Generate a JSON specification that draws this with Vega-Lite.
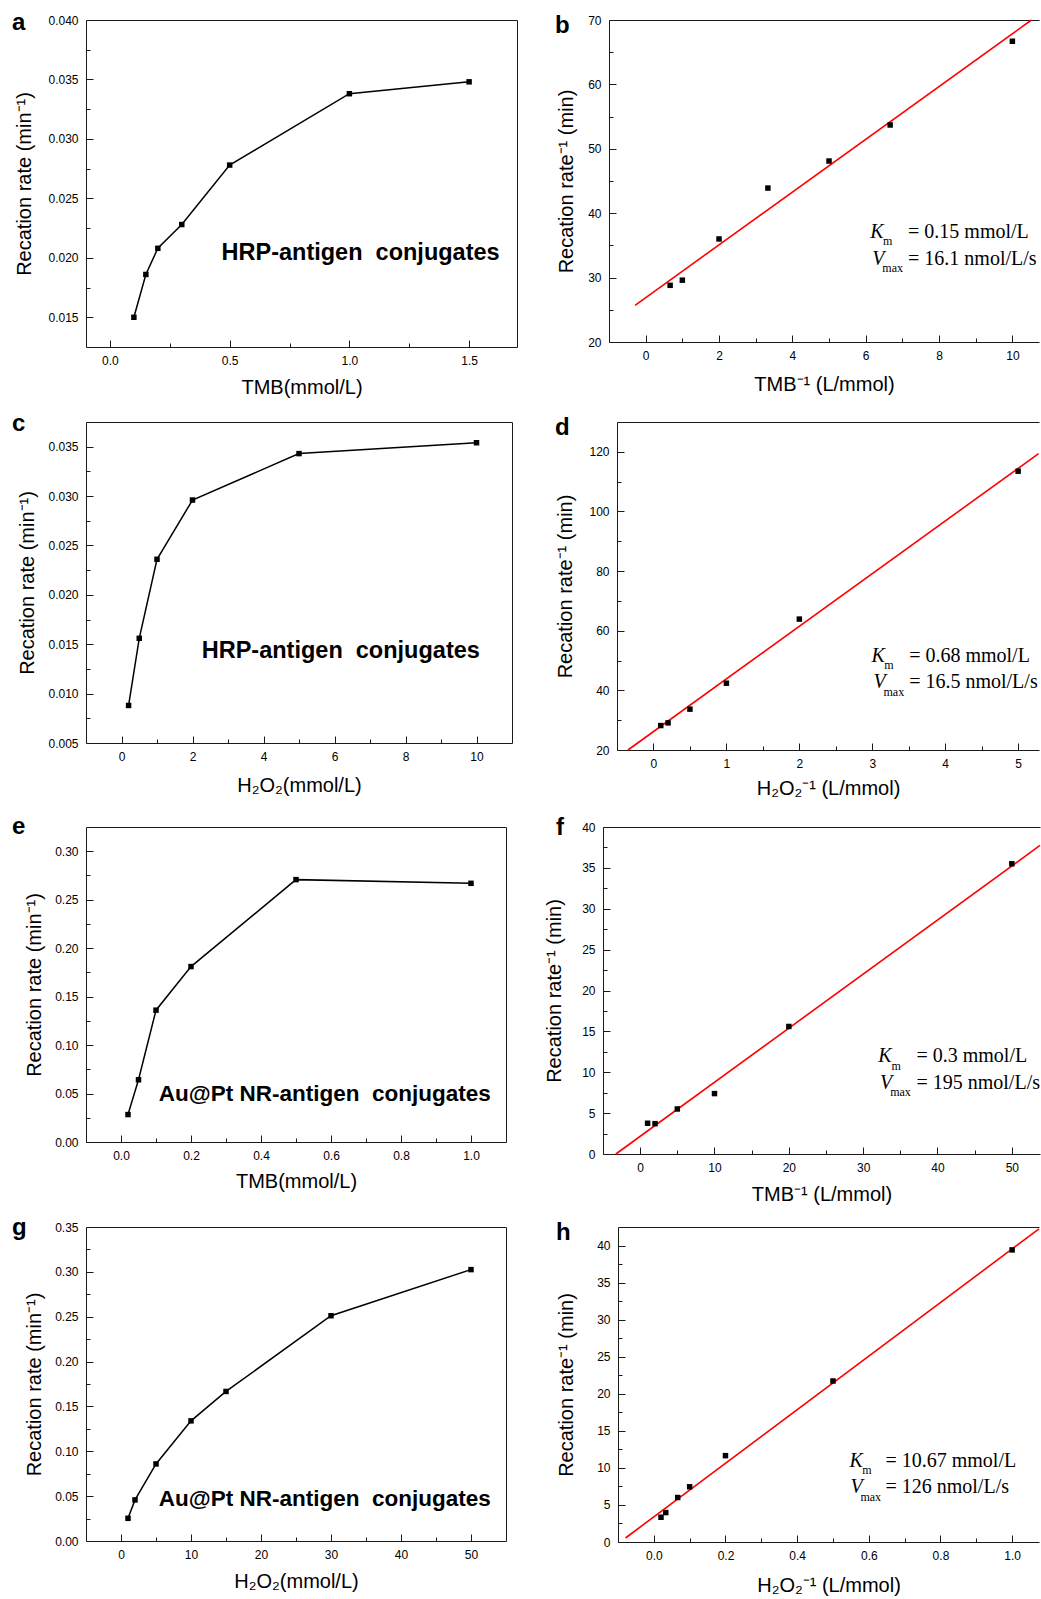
{
  "$schema": "https://vega.github.io/schema/vega-lite/v6.json",
  "background": "white",
  "padding": {"left": 12, "top": 6, "right": 0, "bottom": 0},
  "datasets": {
    "pts": [
      {"p": "a", "x": 0.1, "y": 0.0150}, {"p": "a", "x": 0.15, "y": 0.0186}, {"p": "a", "x": 0.2, "y": 0.0208}, {"p": "a", "x": 0.3, "y": 0.0228}, {"p": "a", "x": 0.5, "y": 0.0278}, {"p": "a", "x": 1.0, "y": 0.0338}, {"p": "a", "x": 1.5, "y": 0.0348},
      {"p": "b", "x": 0.667, "y": 28.8}, {"p": "b", "x": 1.0, "y": 29.6}, {"p": "b", "x": 2.0, "y": 36.0}, {"p": "b", "x": 3.333, "y": 43.9}, {"p": "b", "x": 5.0, "y": 48.1}, {"p": "b", "x": 6.667, "y": 53.7}, {"p": "b", "x": 10.0, "y": 66.7},
      {"p": "c", "x": 0.2, "y": 0.0088}, {"p": "c", "x": 0.5, "y": 0.0156}, {"p": "c", "x": 1.0, "y": 0.0236}, {"p": "c", "x": 2.0, "y": 0.0296}, {"p": "c", "x": 5.0, "y": 0.0343}, {"p": "c", "x": 10.0, "y": 0.0354},
      {"p": "d", "x": 0.1, "y": 28.2}, {"p": "d", "x": 0.2, "y": 29.1}, {"p": "d", "x": 0.5, "y": 33.7}, {"p": "d", "x": 1.0, "y": 42.4}, {"p": "d", "x": 2.0, "y": 63.9}, {"p": "d", "x": 5.0, "y": 113.5},
      {"p": "e", "x": 0.02, "y": 0.0283}, {"p": "e", "x": 0.05, "y": 0.0642}, {"p": "e", "x": 0.1, "y": 0.136}, {"p": "e", "x": 0.2, "y": 0.181}, {"p": "e", "x": 0.5, "y": 0.2707}, {"p": "e", "x": 1.0, "y": 0.2669},
      {"p": "f", "x": 1, "y": 3.76}, {"p": "f", "x": 2, "y": 3.71}, {"p": "f", "x": 5, "y": 5.51}, {"p": "f", "x": 10, "y": 7.39}, {"p": "f", "x": 20, "y": 15.6}, {"p": "f", "x": 50, "y": 35.5},
      {"p": "g", "x": 1, "y": 0.0253}, {"p": "g", "x": 2, "y": 0.0458}, {"p": "g", "x": 5, "y": 0.0859}, {"p": "g", "x": 10, "y": 0.1339}, {"p": "g", "x": 15, "y": 0.1667}, {"p": "g", "x": 30, "y": 0.2511}, {"p": "g", "x": 50, "y": 0.3025},
      {"p": "h", "x": 0.02, "y": 3.34}, {"p": "h", "x": 0.0333, "y": 3.97}, {"p": "h", "x": 0.0667, "y": 6.0}, {"p": "h", "x": 0.1, "y": 7.45}, {"p": "h", "x": 0.2, "y": 11.65}, {"p": "h", "x": 0.5, "y": 21.72}, {"p": "h", "x": 1.0, "y": 39.41}
    ],
    "fit": [
      {"p": "b", "x": -0.29, "y": 25.7}, {"p": "b", "x": 10.52, "y": 70},
      {"p": "d", "x": -0.35, "y": 20}, {"p": "d", "x": 5.28, "y": 119.4},
      {"p": "f", "x": -3.27, "y": 0}, {"p": "f", "x": 53.79, "y": 37.74},
      {"p": "h", "x": -0.079, "y": 0.54}, {"p": "h", "x": 1.075, "y": 42.25}
    ]
  },
  "config": {
    "font": "Liberation Sans",
    "view": {"stroke": null},
    "axis": {
      "grid": false, "domainColor": "#1a1a1a", "domainWidth": 1, "tickColor": "#1a1a1a", "tickWidth": 1,
      "labelColor": "#000", "titleColor": "#000", "labelFont": "Liberation Sans", "titleFont": "Liberation Sans",
      "labelFontSize": 12, "titleFontSize": 20, "titleFontWeight": "normal", "labelOverlap": false, "labelFlush": false,
      "tickSize": -7, "titlePadding": 0, "labelPadding": 15
    },
    "title": {"font": "Liberation Sans", "fontSize": 24, "fontWeight": "bold", "anchor": "start", "frame": "group", "offset": 0, "baseline": "alphabetic", "color": "#000"}
  },
  "spacing": 8,
  "vconcat": [
    {
      "spacing": 38,
      "hconcat": [
        {
          "width": 431, "height": 327,
          "title": {"text": "a", "dx": -74, "dy": 33},
          "layer": [
            {"data": {"name": "pts"}, "transform": [{"filter": "datum.p === 'a'"}],
             "mark": {"type": "line", "color": "#000", "strokeWidth": 1.5},
             "encoding": {
               "x": {"field": "x", "type": "quantitative", "scale": {"domain": [-0.1, 1.7], "nice": false, "zero": false},
                     "axis": {"orient": "bottom", "title": "TMB(mmol/L)", "values": [0, 0.25, 0.5, 0.75, 1, 1.25, 1.5],
                              "labelExpr": "abs(datum.value/0.5 - round(datum.value/0.5)) > 0.01 ? '' : format(datum.value, '.1f')",
                              "tickDash": {"condition": {"test": "abs(datum.value/0.5 - round(datum.value/0.5)) > 0.01", "value": [4, 20]}, "value": [10, 0]},
                              "minExtent": 30.5, "maxExtent": 30.5}},
               "y": {"field": "y", "type": "quantitative", "scale": {"domain": [0.0125, 0.04], "nice": false, "zero": false},
                     "axis": {"orient": "left", "title": "Recation rate (min\u207b\u00b9)", "values": [0.015, 0.0175, 0.02, 0.0225, 0.025, 0.0275, 0.03, 0.0325, 0.035, 0.0375, 0.04],
                              "labelExpr": "abs(datum.value/0.005 - round(datum.value/0.005)) > 0.01 ? '' : format(datum.value, '.3f')",
                              "tickDash": {"condition": {"test": "abs(datum.value/0.005 - round(datum.value/0.005)) > 0.01", "value": [4, 20]}, "value": [10, 0]},
                              "minExtent": 51.3, "maxExtent": 51.3}}
             }},
            {"data": {"name": "pts"}, "transform": [{"filter": "datum.p === 'a'"}],
             "mark": {"type": "point", "shape": "square", "filled": true, "size": 30, "color": "#000", "opacity": 1},
             "encoding": {"x": {"field": "x", "type": "quantitative", "axis": null}, "y": {"field": "y", "type": "quantitative", "axis": null}}},
            {"data": {"values": [{}]},
             "mark": {"type": "text", "text": "HRP-antigen\u00a0 conjugates", "align": "left", "baseline": "alphabetic", "font": "Liberation Sans", "fontSize": 23.5, "fontWeight": "bold", "color": "#000"},
             "encoding": {
               "x": {"datum": 0.466, "type": "quantitative", "axis": {"orient": "top", "labels": false, "ticks": false, "title": null, "minExtent": 14, "maxExtent": 14}},
               "y": {"datum": 0.01978, "type": "quantitative", "axis": {"orient": "right", "labels": false, "ticks": false, "title": null, "minExtent": 0, "maxExtent": 0}}
             }}
          ],
          "resolve": {"axis": {"x": "independent", "y": "independent"}}
        },
        {
          "width": 430, "height": 322,
          "title": {"text": "b", "dx": -54, "dy": 35.7},
          "layer": [
            {"data": {"name": "fit"}, "transform": [{"filter": "datum.p === 'b'"}],
             "mark": {"type": "line", "color": "#ff0000", "strokeWidth": 1.6},
             "encoding": {"x": {"field": "x", "type": "quantitative", "axis": null}, "y": {"field": "y", "type": "quantitative", "axis": null}}},
            {"data": {"name": "pts"}, "transform": [{"filter": "datum.p === 'b'"}],
             "mark": {"type": "point", "shape": "square", "filled": true, "size": 30, "color": "#000", "opacity": 1},
             "encoding": {
               "x": {"field": "x", "type": "quantitative", "scale": {"domain": [-1, 10.726], "nice": false, "zero": false},
                     "axis": {"orient": "bottom", "title": "TMB\u207b\u00b9 (L/mmol)", "values": [0, 1, 2, 3, 4, 5, 6, 7, 8, 9, 10],
                              "labelExpr": "abs(datum.value/2 - round(datum.value/2)) > 0.01 ? '' : format(datum.value, 'd')",
                              "tickDash": {"condition": {"test": "abs(datum.value/2 - round(datum.value/2)) > 0.01", "value": [4, 20]}, "value": [10, 0]},
                              "minExtent": 32.9, "maxExtent": 32.9}},
               "y": {"field": "y", "type": "quantitative", "scale": {"domain": [20, 70], "nice": false, "zero": false},
                     "axis": {"orient": "left", "title": "Recation rate\u207b\u00b9 (min)", "values": [20, 25, 30, 35, 40, 45, 50, 55, 60, 65, 70],
                              "labelExpr": "abs(datum.value/10 - round(datum.value/10)) > 0.01 ? '' : format(datum.value, 'd')",
                              "tickDash": {"condition": {"test": "abs(datum.value/10 - round(datum.value/10)) > 0.01", "value": [4, 20]}, "value": [10, 0]},
                              "minExtent": 32.9, "maxExtent": 32.9}}
             }},
            {"data": {"values": [{}]},
             "mark": {"type": "text", "text": "K", "font": "Liberation Serif", "fontSize": 20, "fontStyle": "italic", "align": "left", "baseline": "alphabetic", "color": "#000"},
             "encoding": {"x": {"datum": 6.127, "type": "quantitative", "axis": {"orient": "top", "labels": false, "ticks": false, "title": null, "minExtent": 14, "maxExtent": 14}},
                          "y": {"datum": 36.22, "type": "quantitative", "axis": null}}},
            {"data": {"values": [{}]},
             "mark": {"type": "text", "text": "m", "font": "Liberation Serif", "fontSize": 12, "align": "left", "baseline": "alphabetic", "dx": 12.7, "dy": 7.7, "color": "#000"},
             "encoding": {"x": {"datum": 6.127, "type": "quantitative", "axis": null}, "y": {"datum": 36.22, "type": "quantitative", "axis": null}}},
            {"data": {"values": [{}]},
             "mark": {"type": "text", "text": "= 0.15 mmol/L", "font": "Liberation Serif", "fontSize": 20, "align": "left", "baseline": "alphabetic", "dx": 37.7, "color": "#000"},
             "encoding": {"x": {"datum": 6.127, "type": "quantitative", "axis": null}, "y": {"datum": 36.22, "type": "quantitative", "axis": null}}},
            {"data": {"values": [{}]},
             "mark": {"type": "text", "text": "V", "font": "Liberation Serif", "fontSize": 20, "fontStyle": "italic", "align": "left", "baseline": "alphabetic", "dx": 2, "color": "#000"},
             "encoding": {"x": {"datum": 6.127, "type": "quantitative", "axis": null}, "y": {"datum": 32.02, "type": "quantitative", "axis": null}}},
            {"data": {"values": [{}]},
             "mark": {"type": "text", "text": "max", "font": "Liberation Serif", "fontSize": 12, "align": "left", "baseline": "alphabetic", "dx": 12, "dy": 7.4, "color": "#000"},
             "encoding": {"x": {"datum": 6.127, "type": "quantitative", "axis": null}, "y": {"datum": 32.02, "type": "quantitative", "axis": null}}},
            {"data": {"values": [{}]},
             "mark": {"type": "text", "text": "= 16.1 nmol/L/s", "font": "Liberation Serif", "fontSize": 20, "align": "left", "baseline": "alphabetic", "dx": 37.7, "color": "#000"},
             "encoding": {"x": {"datum": 6.127, "type": "quantitative", "axis": null}, "y": {"datum": 32.02, "type": "quantitative", "axis": null}}}
          ],
          "resolve": {"axis": {"x": "independent", "y": "independent"}}
        }
      ]
    },
    {
      "spacing": 43,
      "hconcat": [
        {
          "width": 426, "height": 321,
          "title": {"text": "c", "dx": -74, "dy": 32.8},
          "layer": [
            {"data": {"name": "pts"}, "transform": [{"filter": "datum.p === 'c'"}],
             "mark": {"type": "line", "color": "#000", "strokeWidth": 1.5},
             "encoding": {
               "x": {"field": "x", "type": "quantitative", "scale": {"domain": [-1, 11], "nice": false, "zero": false},
                     "axis": {"orient": "bottom", "title": "H\u2082O\u2082(mmol/L)", "values": [0, 1, 2, 3, 4, 5, 6, 7, 8, 9, 10],
                              "labelExpr": "abs(datum.value/2 - round(datum.value/2)) > 0.01 ? '' : format(datum.value, 'd')",
                              "tickDash": {"condition": {"test": "abs(datum.value/2 - round(datum.value/2)) > 0.01", "value": [4, 20]}, "value": [10, 0]},
                              "minExtent": 32.5, "maxExtent": 32.5}},
               "y": {"field": "y", "type": "quantitative", "scale": {"domain": [0.005, 0.0375], "nice": false, "zero": false},
                     "axis": {"orient": "left", "title": "Recation rate (min\u207b\u00b9)", "values": [0.005, 0.0075, 0.01, 0.0125, 0.015, 0.0175, 0.02, 0.0225, 0.025, 0.0275, 0.03, 0.0325, 0.035],
                              "labelExpr": "abs(datum.value/0.005 - round(datum.value/0.005)) > 0.01 ? '' : format(datum.value, '.3f')",
                              "tickDash": {"condition": {"test": "abs(datum.value/0.005 - round(datum.value/0.005)) > 0.01", "value": [4, 20]}, "value": [10, 0]},
                              "minExtent": 48.8, "maxExtent": 48.8}}
             }},
            {"data": {"name": "pts"}, "transform": [{"filter": "datum.p === 'c'"}],
             "mark": {"type": "point", "shape": "square", "filled": true, "size": 30, "color": "#000", "opacity": 1},
             "encoding": {"x": {"field": "x", "type": "quantitative", "axis": null}, "y": {"field": "y", "type": "quantitative", "axis": null}}},
            {"data": {"values": [{}]},
             "mark": {"type": "text", "text": "HRP-antigen\u00a0 conjugates", "align": "left", "baseline": "alphabetic", "font": "Liberation Sans", "fontSize": 23.5, "fontWeight": "bold", "color": "#000"},
             "encoding": {
               "x": {"datum": 2.26, "type": "quantitative", "axis": {"orient": "top", "labels": false, "ticks": false, "title": null, "minExtent": 15.2, "maxExtent": 15.2}},
               "y": {"datum": 0.01361, "type": "quantitative", "axis": {"orient": "right", "labels": false, "ticks": false, "title": null, "minExtent": 0, "maxExtent": 0}}
             }}
          ],
          "resolve": {"axis": {"x": "independent", "y": "independent"}}
        },
        {
          "width": 422, "height": 328,
          "title": {"text": "d", "dx": -62, "dy": 37.2},
          "layer": [
            {"data": {"name": "fit"}, "transform": [{"filter": "datum.p === 'd'"}],
             "mark": {"type": "line", "color": "#ff0000", "strokeWidth": 1.6},
             "encoding": {"x": {"field": "x", "type": "quantitative", "axis": null}, "y": {"field": "y", "type": "quantitative", "axis": null}}},
            {"data": {"name": "pts"}, "transform": [{"filter": "datum.p === 'd'"}],
             "mark": {"type": "point", "shape": "square", "filled": true, "size": 30, "color": "#000", "opacity": 1},
             "encoding": {
               "x": {"field": "x", "type": "quantitative", "scale": {"domain": [-0.5, 5.286], "nice": false, "zero": false},
                     "axis": {"orient": "bottom", "title": "H\u2082O\u2082\u207b\u00b9 (L/mmol)", "values": [0, 0.5, 1, 1.5, 2, 2.5, 3, 3.5, 4, 4.5, 5],
                              "labelExpr": "abs(datum.value - round(datum.value)) > 0.01 ? '' : format(datum.value, 'd')",
                              "tickDash": {"condition": {"test": "abs(datum.value - round(datum.value)) > 0.01", "value": [4, 20]}, "value": [10, 0]},
                              "minExtent": 28.5, "maxExtent": 28.5}},
               "y": {"field": "y", "type": "quantitative", "scale": {"domain": [20, 130], "nice": false, "zero": false},
                     "axis": {"orient": "left", "title": "Recation rate\u207b\u00b9 (min)", "values": [20, 30, 40, 50, 60, 70, 80, 90, 100, 110, 120],
                              "labelExpr": "abs(datum.value/20 - round(datum.value/20)) > 0.01 ? '' : format(datum.value, 'd')",
                              "tickDash": {"condition": {"test": "abs(datum.value/20 - round(datum.value/20)) > 0.01", "value": [4, 20]}, "value": [10, 0]},
                              "minExtent": 42, "maxExtent": 42}}
             }},
            {"data": {"values": [{}]},
             "mark": {"type": "text", "text": "K", "font": "Liberation Serif", "fontSize": 20, "fontStyle": "italic", "align": "left", "baseline": "alphabetic", "color": "#000"},
             "encoding": {"x": {"datum": 2.989, "type": "quantitative", "axis": {"orient": "top", "labels": false, "ticks": false, "title": null, "minExtent": 15.2, "maxExtent": 15.2}},
                          "y": {"datum": 49.67, "type": "quantitative", "axis": null}}},
            {"data": {"values": [{}]},
             "mark": {"type": "text", "text": "m", "font": "Liberation Serif", "fontSize": 12, "align": "left", "baseline": "alphabetic", "dx": 12.7, "dy": 7.7, "color": "#000"},
             "encoding": {"x": {"datum": 2.989, "type": "quantitative", "axis": null}, "y": {"datum": 49.67, "type": "quantitative", "axis": null}}},
            {"data": {"values": [{}]},
             "mark": {"type": "text", "text": "= 0.68 mmol/L", "font": "Liberation Serif", "fontSize": 20, "align": "left", "baseline": "alphabetic", "dx": 37.7, "color": "#000"},
             "encoding": {"x": {"datum": 2.989, "type": "quantitative", "axis": null}, "y": {"datum": 49.67, "type": "quantitative", "axis": null}}},
            {"data": {"values": [{}]},
             "mark": {"type": "text", "text": "V", "font": "Liberation Serif", "fontSize": 20, "fontStyle": "italic", "align": "left", "baseline": "alphabetic", "dx": 2, "color": "#000"},
             "encoding": {"x": {"datum": 2.989, "type": "quantitative", "axis": null}, "y": {"datum": 40.72, "type": "quantitative", "axis": null}}},
            {"data": {"values": [{}]},
             "mark": {"type": "text", "text": "max", "font": "Liberation Serif", "fontSize": 12, "align": "left", "baseline": "alphabetic", "dx": 12, "dy": 7.4, "color": "#000"},
             "encoding": {"x": {"datum": 2.989, "type": "quantitative", "axis": null}, "y": {"datum": 40.72, "type": "quantitative", "axis": null}}},
            {"data": {"values": [{}]},
             "mark": {"type": "text", "text": "= 16.5 nmol/L/s", "font": "Liberation Serif", "fontSize": 20, "align": "left", "baseline": "alphabetic", "dx": 37.7, "color": "#000"},
             "encoding": {"x": {"datum": 2.989, "type": "quantitative", "axis": null}, "y": {"datum": 40.72, "type": "quantitative", "axis": null}}}
          ],
          "resolve": {"axis": {"x": "independent", "y": "independent"}}
        }
      ]
    },
    {
      "spacing": 38,
      "hconcat": [
        {
          "width": 420, "height": 315,
          "title": {"text": "e", "dx": -74, "dy": 35.5},
          "layer": [
            {"data": {"name": "pts"}, "transform": [{"filter": "datum.p === 'e'"}],
             "mark": {"type": "line", "color": "#000", "strokeWidth": 1.5},
             "encoding": {
               "x": {"field": "x", "type": "quantitative", "scale": {"domain": [-0.1, 1.1], "nice": false, "zero": false},
                     "axis": {"orient": "bottom", "title": "TMB(mmol/L)", "values": [0, 0.1, 0.2, 0.3, 0.4, 0.5, 0.6, 0.7, 0.8, 0.9, 1],
                              "labelExpr": "abs(datum.value/0.2 - round(datum.value/0.2)) > 0.01 ? '' : format(datum.value, '.1f')",
                              "tickDash": {"condition": {"test": "abs(datum.value/0.2 - round(datum.value/0.2)) > 0.01", "value": [4, 20]}, "value": [10, 0]},
                              "minExtent": 29.7, "maxExtent": 29.7}},
               "y": {"field": "y", "type": "quantitative", "scale": {"domain": [0, 0.325], "nice": false, "zero": false},
                     "axis": {"orient": "left", "title": "Recation rate (min\u207b\u00b9)", "values": [0, 0.025, 0.05, 0.075, 0.1, 0.125, 0.15, 0.175, 0.2, 0.225, 0.25, 0.275, 0.3],
                              "labelExpr": "abs(datum.value/0.05 - round(datum.value/0.05)) > 0.01 ? '' : format(datum.value, '.2f')",
                              "tickDash": {"condition": {"test": "abs(datum.value/0.05 - round(datum.value/0.05)) > 0.01", "value": [4, 20]}, "value": [10, 0]},
                              "minExtent": 41.3, "maxExtent": 41.3}}
             }},
            {"data": {"name": "pts"}, "transform": [{"filter": "datum.p === 'e'"}],
             "mark": {"type": "point", "shape": "square", "filled": true, "size": 30, "color": "#000", "opacity": 1},
             "encoding": {"x": {"field": "x", "type": "quantitative", "axis": null}, "y": {"field": "y", "type": "quantitative", "axis": null}}},
            {"data": {"values": [{}]},
             "mark": {"type": "text", "text": "Au@Pt NR-antigen\u00a0 conjugates", "align": "left", "baseline": "alphabetic", "font": "Liberation Sans", "fontSize": 22.5, "fontWeight": "bold", "color": "#000"},
             "encoding": {
               "x": {"datum": 0.108, "type": "quantitative", "axis": {"orient": "top", "labels": false, "ticks": false, "title": null, "minExtent": 19.8, "maxExtent": 19.8}},
               "y": {"datum": 0.0421, "type": "quantitative", "axis": {"orient": "right", "labels": false, "ticks": false, "title": null, "minExtent": 0, "maxExtent": 0}}
             }}
          ],
          "resolve": {"axis": {"x": "independent", "y": "independent"}}
        },
        {
          "width": 437, "height": 327,
          "title": {"text": "f", "dx": -47, "dy": 36.5},
          "layer": [
            {"data": {"name": "fit"}, "transform": [{"filter": "datum.p === 'f'"}],
             "mark": {"type": "line", "color": "#ff0000", "strokeWidth": 1.6},
             "encoding": {"x": {"field": "x", "type": "quantitative", "axis": null}, "y": {"field": "y", "type": "quantitative", "axis": null}}},
            {"data": {"name": "pts"}, "transform": [{"filter": "datum.p === 'f'"}],
             "mark": {"type": "point", "shape": "square", "filled": true, "size": 30, "color": "#000", "opacity": 1},
             "encoding": {
               "x": {"field": "x", "type": "quantitative", "scale": {"domain": [-5, 53.79], "nice": false, "zero": false},
                     "axis": {"orient": "bottom", "title": "TMB\u207b\u00b9 (L/mmol)", "values": [0, 5, 10, 15, 20, 25, 30, 35, 40, 45, 50],
                              "labelExpr": "abs(datum.value/10 - round(datum.value/10)) > 0.01 ? '' : format(datum.value, 'd')",
                              "tickDash": {"condition": {"test": "abs(datum.value/10 - round(datum.value/10)) > 0.01", "value": [4, 20]}, "value": [10, 0]},
                              "minExtent": 30.7, "maxExtent": 30.7}},
               "y": {"field": "y", "type": "quantitative", "scale": {"domain": [0, 40], "nice": false, "zero": false},
                     "axis": {"orient": "left", "title": "Recation rate\u207b\u00b9 (min)", "values": [0, 2.5, 5, 7.5, 10, 12.5, 15, 17.5, 20, 22.5, 25, 27.5, 30, 32.5, 35, 37.5, 40],
                              "labelExpr": "abs(datum.value/5 - round(datum.value/5)) > 0.01 ? '' : format(datum.value, 'd')",
                              "tickDash": {"condition": {"test": "abs(datum.value/5 - round(datum.value/5)) > 0.01", "value": [4, 20]}, "value": [10, 0]},
                              "minExtent": 38.1, "maxExtent": 38.1}}
             }},
            {"data": {"values": [{}]},
             "mark": {"type": "text", "text": "K", "font": "Liberation Serif", "fontSize": 20, "fontStyle": "italic", "align": "left", "baseline": "alphabetic", "color": "#000"},
             "encoding": {"x": {"datum": 32.02, "type": "quantitative", "axis": {"orient": "top", "labels": false, "ticks": false, "title": null, "minExtent": 19.8, "maxExtent": 19.8}},
                          "y": {"datum": 11.27, "type": "quantitative", "axis": null}}},
            {"data": {"values": [{}]},
             "mark": {"type": "text", "text": "m", "font": "Liberation Serif", "fontSize": 12, "align": "left", "baseline": "alphabetic", "dx": 13.3, "dy": 7.7, "color": "#000"},
             "encoding": {"x": {"datum": 32.02, "type": "quantitative", "axis": null}, "y": {"datum": 11.27, "type": "quantitative", "axis": null}}},
            {"data": {"values": [{}]},
             "mark": {"type": "text", "text": "= 0.3 mmol/L", "font": "Liberation Serif", "fontSize": 20, "align": "left", "baseline": "alphabetic", "dx": 38.3, "color": "#000"},
             "encoding": {"x": {"datum": 32.02, "type": "quantitative", "axis": null}, "y": {"datum": 11.27, "type": "quantitative", "axis": null}}},
            {"data": {"values": [{}]},
             "mark": {"type": "text", "text": "V", "font": "Liberation Serif", "fontSize": 20, "fontStyle": "italic", "align": "left", "baseline": "alphabetic", "dx": 1.7, "color": "#000"},
             "encoding": {"x": {"datum": 32.02, "type": "quantitative", "axis": null}, "y": {"datum": 7.96, "type": "quantitative", "axis": null}}},
            {"data": {"values": [{}]},
             "mark": {"type": "text", "text": "max", "font": "Liberation Serif", "fontSize": 12, "align": "left", "baseline": "alphabetic", "dx": 12, "dy": 7.4, "color": "#000"},
             "encoding": {"x": {"datum": 32.02, "type": "quantitative", "axis": null}, "y": {"datum": 7.96, "type": "quantitative", "axis": null}}},
            {"data": {"values": [{}]},
             "mark": {"type": "text", "text": "= 195 nmol/L/s", "font": "Liberation Serif", "fontSize": 20, "align": "left", "baseline": "alphabetic", "dx": 38.3, "color": "#000"},
             "encoding": {"x": {"datum": 32.02, "type": "quantitative", "axis": null}, "y": {"datum": 7.96, "type": "quantitative", "axis": null}}}
          ],
          "resolve": {"axis": {"x": "independent", "y": "independent"}}
        }
      ]
    },
    {
      "spacing": 50,
      "hconcat": [
        {
          "width": 420, "height": 314,
          "title": {"text": "g", "dx": -74, "dy": 29.9},
          "layer": [
            {"data": {"name": "pts"}, "transform": [{"filter": "datum.p === 'g'"}],
             "mark": {"type": "line", "color": "#000", "strokeWidth": 1.5},
             "encoding": {
               "x": {"field": "x", "type": "quantitative", "scale": {"domain": [-5, 55], "nice": false, "zero": false},
                     "axis": {"orient": "bottom", "title": "H\u2082O\u2082(mmol/L)", "values": [0, 5, 10, 15, 20, 25, 30, 35, 40, 45, 50],
                              "labelExpr": "abs(datum.value/10 - round(datum.value/10)) > 0.01 ? '' : format(datum.value, 'd')",
                              "tickDash": {"condition": {"test": "abs(datum.value/10 - round(datum.value/10)) > 0.01", "value": [4, 20]}, "value": [10, 0]},
                              "minExtent": 30.4, "maxExtent": 30.4}},
               "y": {"field": "y", "type": "quantitative", "scale": {"domain": [0, 0.35], "nice": false, "zero": false},
                     "axis": {"orient": "left", "title": "Recation rate (min\u207b\u00b9)", "values": [0, 0.025, 0.05, 0.075, 0.1, 0.125, 0.15, 0.175, 0.2, 0.225, 0.25, 0.275, 0.3, 0.325, 0.35],
                              "labelExpr": "abs(datum.value/0.05 - round(datum.value/0.05)) > 0.01 ? '' : format(datum.value, '.2f')",
                              "tickDash": {"condition": {"test": "abs(datum.value/0.05 - round(datum.value/0.05)) > 0.01", "value": [4, 20]}, "value": [10, 0]},
                              "minExtent": 41.3, "maxExtent": 41.3}}
             }},
            {"data": {"name": "pts"}, "transform": [{"filter": "datum.p === 'g'"}],
             "mark": {"type": "point", "shape": "square", "filled": true, "size": 30, "color": "#000", "opacity": 1},
             "encoding": {"x": {"field": "x", "type": "quantitative", "axis": null}, "y": {"field": "y", "type": "quantitative", "axis": null}}},
            {"data": {"values": [{}]},
             "mark": {"type": "text", "text": "Au@Pt NR-antigen\u00a0 conjugates", "align": "left", "baseline": "alphabetic", "font": "Liberation Sans", "fontSize": 22.5, "fontWeight": "bold", "color": "#000"},
             "encoding": {
               "x": {"datum": 5.4, "type": "quantitative", "axis": {"orient": "top", "labels": false, "ticks": false, "title": null, "minExtent": 13.3, "maxExtent": 13.3}},
               "y": {"datum": 0.0394, "type": "quantitative", "axis": {"orient": "right", "labels": false, "ticks": false, "title": null, "minExtent": 0, "maxExtent": 0}}
             }}
          ],
          "resolve": {"axis": {"x": "independent", "y": "independent"}}
        },
        {
          "width": 421, "height": 315,
          "title": {"text": "h", "dx": -62, "dy": 35.6},
          "layer": [
            {"data": {"name": "fit"}, "transform": [{"filter": "datum.p === 'h'"}],
             "mark": {"type": "line", "color": "#ff0000", "strokeWidth": 1.6},
             "encoding": {"x": {"field": "x", "type": "quantitative", "axis": null}, "y": {"field": "y", "type": "quantitative", "axis": null}}},
            {"data": {"name": "pts"}, "transform": [{"filter": "datum.p === 'h'"}],
             "mark": {"type": "point", "shape": "square", "filled": true, "size": 30, "color": "#000", "opacity": 1},
             "encoding": {
               "x": {"field": "x", "type": "quantitative", "scale": {"domain": [-0.1, 1.075], "nice": false, "zero": false},
                     "axis": {"orient": "bottom", "title": "H\u2082O\u2082\u207b\u00b9 (L/mmol)", "values": [0, 0.1, 0.2, 0.3, 0.4, 0.5, 0.6, 0.7, 0.8, 0.9, 1],
                              "labelExpr": "abs(datum.value/0.2 - round(datum.value/0.2)) > 0.01 ? '' : format(datum.value, '.1f')",
                              "tickDash": {"condition": {"test": "abs(datum.value/0.2 - round(datum.value/0.2)) > 0.01", "value": [4, 20]}, "value": [10, 0]},
                              "minExtent": 33.5, "maxExtent": 33.5}},
               "y": {"field": "y", "type": "quantitative", "scale": {"domain": [0, 42.5], "nice": false, "zero": false},
                     "axis": {"orient": "left", "title": "Recation rate\u207b\u00b9 (min)", "values": [0, 2.5, 5, 7.5, 10, 12.5, 15, 17.5, 20, 22.5, 25, 27.5, 30, 32.5, 35, 37.5, 40],
                              "labelExpr": "abs(datum.value/5 - round(datum.value/5)) > 0.01 ? '' : format(datum.value, 'd')",
                              "tickDash": {"condition": {"test": "abs(datum.value/5 - round(datum.value/5)) > 0.01", "value": [4, 20]}, "value": [10, 0]},
                              "minExtent": 42, "maxExtent": 42}}
             }},
            {"data": {"values": [{}]},
             "mark": {"type": "text", "text": "K", "font": "Liberation Serif", "fontSize": 20, "fontStyle": "italic", "align": "left", "baseline": "alphabetic", "color": "#000"},
             "encoding": {"x": {"datum": 0.546, "type": "quantitative", "axis": {"orient": "top", "labels": false, "ticks": false, "title": null, "minExtent": 13.3, "maxExtent": 13.3}},
                          "y": {"datum": 10.16, "type": "quantitative", "axis": null}}},
            {"data": {"values": [{}]},
             "mark": {"type": "text", "text": "m", "font": "Liberation Serif", "fontSize": 12, "align": "left", "baseline": "alphabetic", "dx": 12.7, "dy": 7.7, "color": "#000"},
             "encoding": {"x": {"datum": 0.546, "type": "quantitative", "axis": null}, "y": {"datum": 10.16, "type": "quantitative", "axis": null}}},
            {"data": {"values": [{}]},
             "mark": {"type": "text", "text": "= 10.67 mmol/L", "font": "Liberation Serif", "fontSize": 20, "align": "left", "baseline": "alphabetic", "dx": 36, "color": "#000"},
             "encoding": {"x": {"datum": 0.546, "type": "quantitative", "axis": null}, "y": {"datum": 10.16, "type": "quantitative", "axis": null}}},
            {"data": {"values": [{}]},
             "mark": {"type": "text", "text": "V", "font": "Liberation Serif", "fontSize": 20, "fontStyle": "italic", "align": "left", "baseline": "alphabetic", "dx": 1, "color": "#000"},
             "encoding": {"x": {"datum": 0.546, "type": "quantitative", "axis": null}, "y": {"datum": 6.55, "type": "quantitative", "axis": null}}},
            {"data": {"values": [{}]},
             "mark": {"type": "text", "text": "max", "font": "Liberation Serif", "fontSize": 12, "align": "left", "baseline": "alphabetic", "dx": 11, "dy": 7.4, "color": "#000"},
             "encoding": {"x": {"datum": 0.546, "type": "quantitative", "axis": null}, "y": {"datum": 6.55, "type": "quantitative", "axis": null}}},
            {"data": {"values": [{}]},
             "mark": {"type": "text", "text": "= 126 nmol/L/s", "font": "Liberation Serif", "fontSize": 20, "align": "left", "baseline": "alphabetic", "dx": 36, "color": "#000"},
             "encoding": {"x": {"datum": 0.546, "type": "quantitative", "axis": null}, "y": {"datum": 6.55, "type": "quantitative", "axis": null}}}
          ],
          "resolve": {"axis": {"x": "independent", "y": "independent"}}
        }
      ]
    }
  ]
}
